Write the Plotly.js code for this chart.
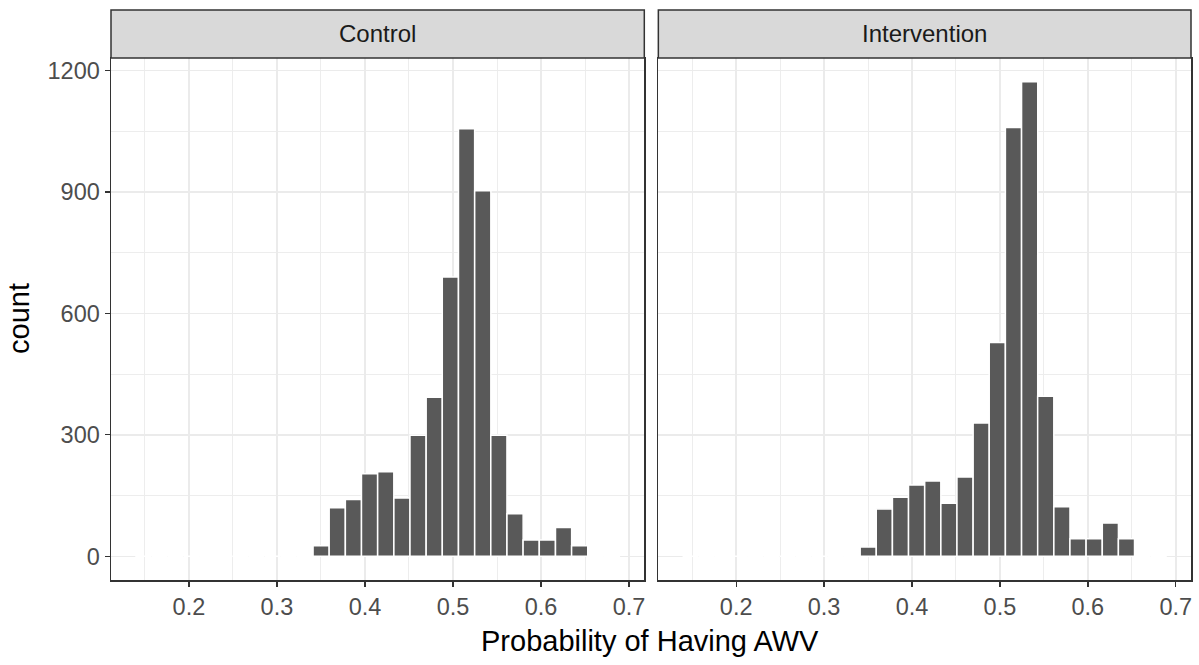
<!DOCTYPE html>
<html>
<head>
<meta charset="utf-8">
<script src="https://cdn.plot.ly/plotly-3.0.1.min.js"></script>
<style>html,body{margin:0;padding:0;background:#fff;}#chart{width:1199px;height:665px;}</style>
</head>
<body>
<div id="chart"></div>
<script>
// Histogram bin centers (probability of having AWV)
const binCenters = [0.1482, 0.1666, 0.1849, 0.2033, 0.2216, 0.2400, 0.2584, 0.2767, 0.2951, 0.3134,
                    0.3318, 0.3502, 0.3685, 0.3869, 0.4052, 0.4236, 0.4420, 0.4603, 0.4787, 0.4970,
                    0.5154, 0.5338, 0.5521, 0.5705, 0.5888, 0.6072, 0.6256, 0.6439, 0.6623, 0.6806];
const binWidth = 0.01836;
const controlCounts = [0, 0, 0, 0, 0, 0, 0, 0, 0, 0,
                       0, 26, 120, 140, 204, 209, 144, 299, 393, 690,
                       1056, 903, 299, 105, 40, 40, 71, 26, 0, 0];
const interventionCounts = [0, 0, 0, 0, 0, 0, 0, 0, 0, 0,
                            0, 23, 117, 146, 176, 186, 131, 196, 329, 528,
                            1059, 1172, 395, 122, 43, 43, 82, 43, 0, 0];
const panelNames = ["Control", "Intervention"];
const xTicks = [0.2, 0.3, 0.4, 0.5, 0.6, 0.7];
const yTicks = [0, 300, 600, 900, 1200];
const xTitle = "Probability of Having AWV";
const yTitle = "count";

const FONT = '"Liberation Sans", Arial, sans-serif';
const barFill = '#595959';

function barTrace(counts, xa, ya) {
  return {
    type: 'bar', x: binCenters, y: counts, width: binWidth,
    xaxis: xa, yaxis: ya,
    marker: {color: barFill, line: {color: '#FFFFFF', width: 1.5}},
    hoverinfo: 'x+y', showlegend: false
  };
}

const data = [
  barTrace(controlCounts, 'x', 'y'),
  barTrace(interventionCounts, 'x2', 'y2')
];

const allCounts = controlCounts.concat(interventionCounts);
const yMax = Math.max(...allCounts);
const xLo = binCenters[0] - binWidth / 2, xHi = binCenters[binCenters.length - 1] + binWidth / 2;
const xPad = (xHi - xLo) * 0.05;
const xRange = [xLo - xPad, xHi + xPad];
const yRange = [-yMax * 0.05, yMax * 1.05];

function xAxis(domain, anchor) {
  return {
    domain: domain, anchor: anchor, range: xRange,
    tickmode: 'array', tickvals: xTicks, ticktext: xTicks.map(v => v.toFixed(1)),
    showgrid: true, gridcolor: '#EBEBEB', gridwidth: 1.5,
    minor: {dtick: 0.05, tick0: 0.15, showgrid: true, gridcolor: '#EDEDED', gridwidth: 1, ticks: ''},
    showline: true, mirror: true, linecolor: '#333333', linewidth: 1.5,
    ticks: 'outside', ticklen: 5, tickwidth: 1.3, tickcolor: '#333333',
    tickfont: {family: FONT, size: 23.5, color: '#4D4D4D'},
    zeroline: false, fixedrange: true
  };
}
function yAxis(anchor, labels) {
  return {
    anchor: anchor, range: yRange,
    tickmode: 'array', tickvals: yTicks, ticktext: yTicks.map(String),
    showticklabels: labels,
    showgrid: true, gridcolor: '#EBEBEB', gridwidth: 1.5,
    minor: {dtick: 150, tick0: 150, showgrid: true, gridcolor: '#EDEDED', gridwidth: 1, ticks: ''},
    showline: true, mirror: true, linecolor: '#333333', linewidth: 1.5,
    ticks: labels ? 'outside' : '', ticklen: 5, tickwidth: 1.3, tickcolor: '#333333',
    tickfont: {family: FONT, size: 23.5, color: '#4D4D4D'},
    zeroline: false, fixedrange: true
  };
}

const dom1 = [0, 0.4938], dom2 = [0.5068, 1];
const stripTop = 1.092;

const layout = {
  width: 1199, height: 665,
  margin: {l: 111, r: 8, t: 58, b: 85, pad: 0},
  paper_bgcolor: '#FFFFFF', plot_bgcolor: '#FFFFFF',
  font: {family: FONT},
  bargap: 0,
  xaxis: xAxis(dom1, 'y'),
  yaxis: yAxis('x', true),
  xaxis2: xAxis(dom2, 'y2'),
  yaxis2: yAxis('x2', false),
  shapes: [dom1, dom2].map(d => ({
    type: 'rect', xref: 'paper', yref: 'paper', x0: d[0], x1: d[1], y0: 1, y1: stripTop,
    fillcolor: '#D9D9D9', line: {color: '#333333', width: 1.5}, layer: 'above'
  })),
  annotations: [
    ...[dom1, dom2].map((d, i) => ({
      text: panelNames[i], xref: 'paper', yref: 'paper',
      x: (d[0] + d[1]) / 2, y: (1 + stripTop) / 2, xanchor: 'center', yanchor: 'middle',
      showarrow: false, font: {family: FONT, size: 24, color: '#1A1A1A'}
    })),
    {text: xTitle, xref: 'paper', yref: 'paper', x: 0.499, y: -0.117,
     xanchor: 'center', yanchor: 'middle', showarrow: false,
     font: {family: FONT, size: 29, color: '#000000'}},
    {text: yTitle, xref: 'paper', yref: 'paper', x: -0.0852, y: 0.502, textangle: -90,
     xanchor: 'center', yanchor: 'middle', showarrow: false,
     font: {family: FONT, size: 29, color: '#000000'}}
  ]
};

Plotly.newPlot('chart', data, layout, {displayModeBar: false, staticPlot: true});
</script>
</body>
</html>
